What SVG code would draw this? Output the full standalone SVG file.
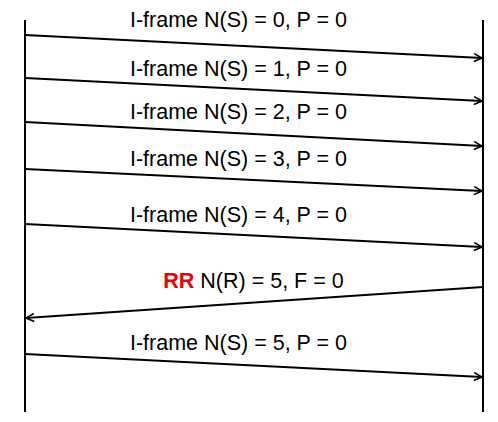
<svg xmlns="http://www.w3.org/2000/svg" width="498" height="422" viewBox="0 0 498 422">
<style>
.l{stroke:#000;stroke-width:2;fill:none}
.c{stroke:#000;stroke-width:2;fill:none;marker-end:url(#a)}
text{font-family:"Liberation Sans",Arial,sans-serif;font-size:21.5px;fill:#000;text-anchor:middle}
.r{fill:#f00000;font-weight:bold}
</style>
<defs>
<marker id="a" viewBox="0 0 10 10" refX="9" refY="5" markerWidth="5" markerHeight="5" orient="auto" markerUnits="strokeWidth">
<path d="M1,1 L9,5 L1,9" fill="none" stroke="#000" stroke-width="1.6"/>
</marker>
</defs>
<g id="lifelines">
<line class="l" x1="25" y1="20" x2="25" y2="412"/>
<line class="l" x1="483" y1="20" x2="483" y2="412"/>
</g>
<g id="connectors">
<line class="c" x1="25" y1="35" x2="482" y2="58"/>
<line class="c" x1="25" y1="78" x2="482" y2="101"/>
<line class="c" x1="25" y1="122" x2="482" y2="146"/>
<line class="c" x1="25" y1="169" x2="482" y2="191"/>
<line class="c" x1="25" y1="224" x2="482" y2="247"/>
<line class="c" x1="483" y1="287" x2="26" y2="318"/>
<line class="c" x1="25" y1="354" x2="482" y2="377"/>
</g>
<g id="labels">
<text x="238.5" y="27">I-frame N(S) = 0, P = 0</text>
<text x="238.5" y="76">I-frame N(S) = 1, P = 0</text>
<text x="238.5" y="119">I-frame N(S) = 2, P = 0</text>
<text x="238.5" y="166">I-frame N(S) = 3, P = 0</text>
<text x="238.5" y="222">I-frame N(S) = 4, P = 0</text>
<text x="253.5" y="288"><tspan class="r">RR</tspan> N(R) = 5, F = 0</text>
<text x="238.5" y="350">I-frame N(S) = 5, P = 0</text>
</g>
</svg>
